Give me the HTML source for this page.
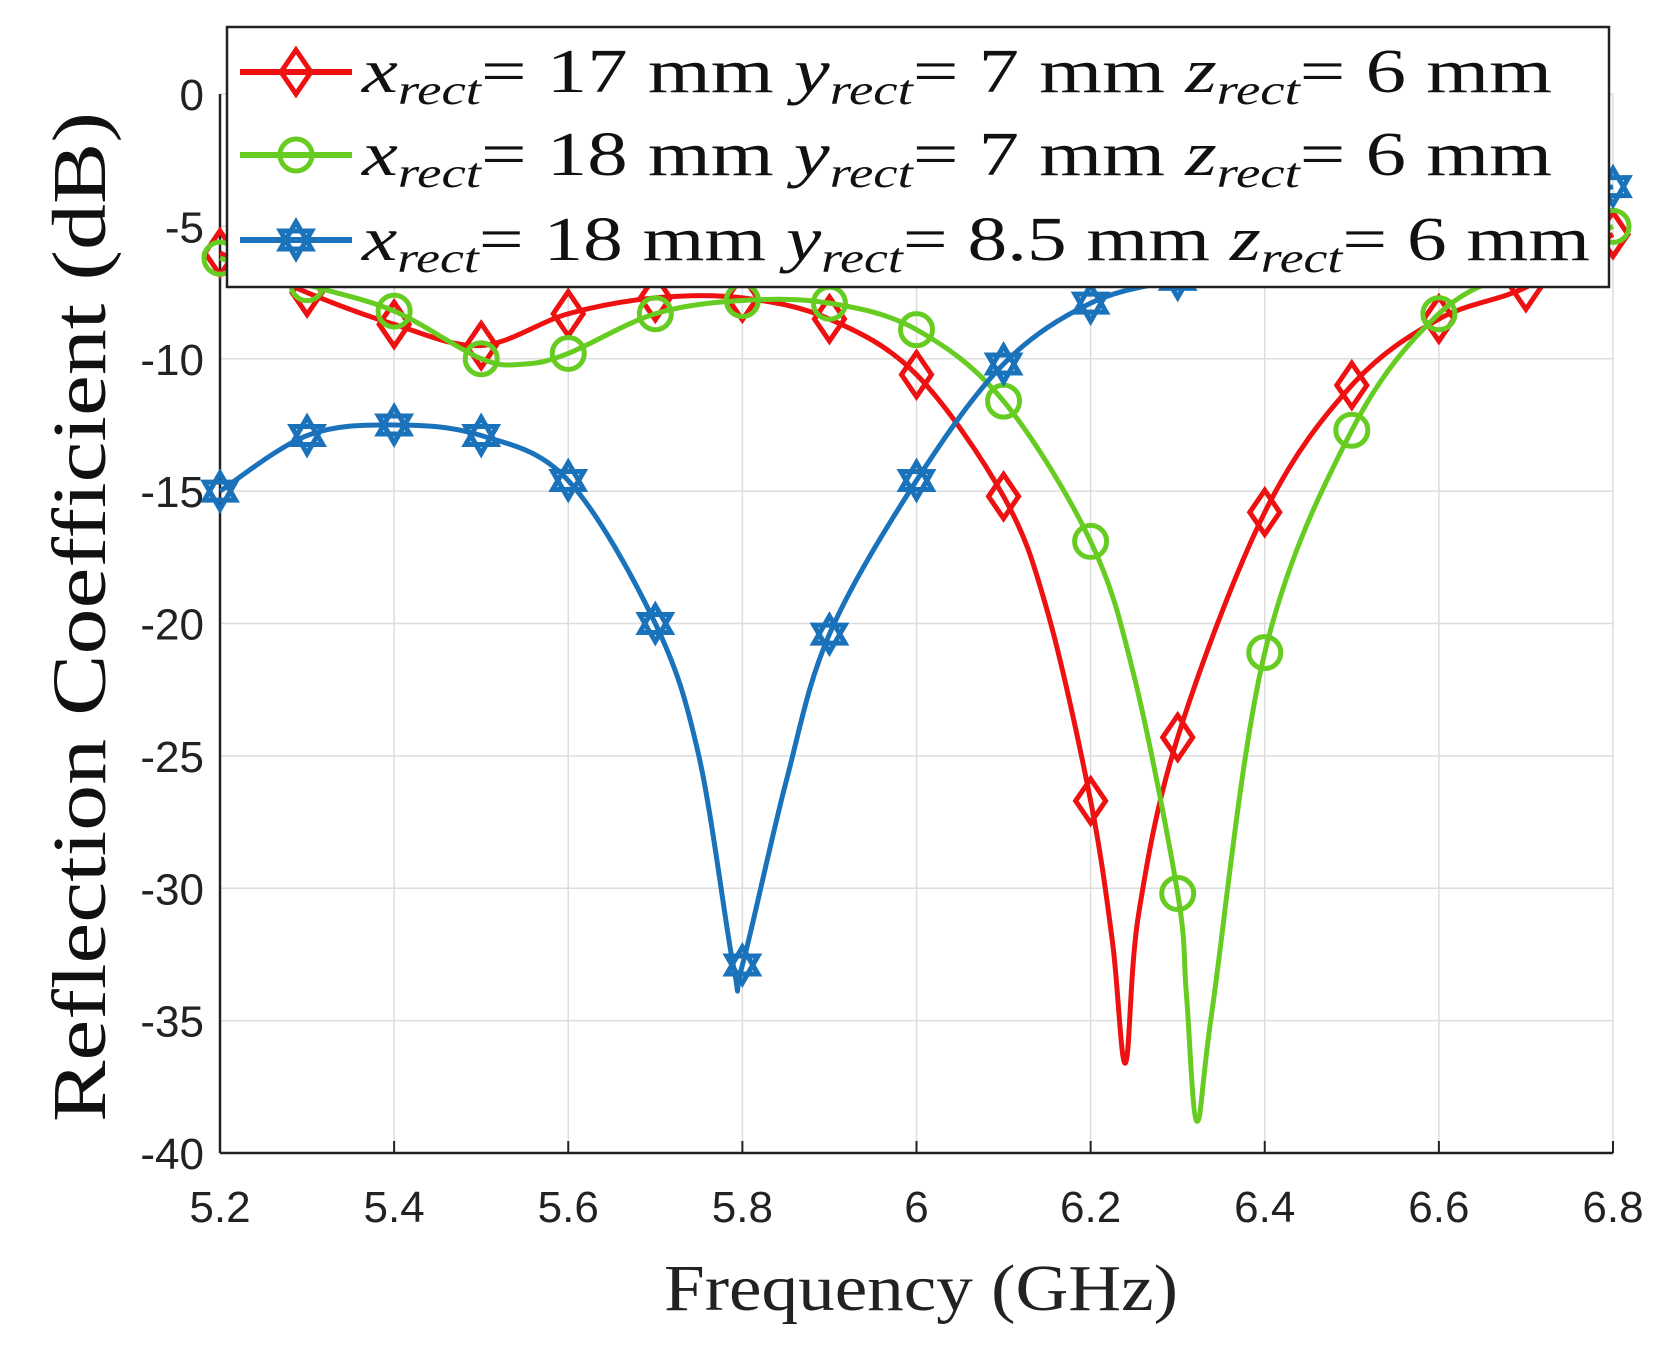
<!DOCTYPE html><html><head><style>body{margin:0;background:#fff}svg{display:block}</style></head><body>
<svg id="s" width="1671" height="1350" xmlns="http://www.w3.org/2000/svg" font-family="Liberation Sans, sans-serif"></svg>
<script>
const L=220,R=1613,T=94,B=1153;
const X=f=>L+(f-5.2)/1.6*(R-L), Y=d=>T+(-d)/40*(B-T);
let h='<rect width="1671" height="1350" fill="#fff"/>';
for(let i=0;i<=16;i+=2){const x=X(5.2+i/10);h+=`<line x1="${x}" y1="${T}" x2="${x}" y2="${B}" stroke="#ddd" stroke-width="1.5"/>`;
h+=`<line x1="${x}" y1="${B}" x2="${x}" y2="${B-12}" stroke="#222" stroke-width="2"/>`;
h+=`<text x="${x}" y="${B+69}" font-size="44" text-anchor="middle" fill="#222">${+(5.2+i/10).toFixed(1)}</text>`;}
for(let d=0;d<=40;d+=5){const y=Y(-d);h+=`<line x1="${L}" y1="${y}" x2="${R}" y2="${y}" stroke="#ddd" stroke-width="1.5"/>`;
h+=`<text x="${L-16}" y="${y+16}" font-size="44" text-anchor="end" fill="#222">${d?'-'+d:0}</text>`;}
h+=`<line x1="${L}" y1="${T}" x2="${L}" y2="${B}" stroke="#222" stroke-width="2.5"/><line x1="${L}" y1="${B}" x2="${R}" y2="${B}" stroke="#222" stroke-width="2.5"/>`;
h+=`<text x="664" y="1310" font-size="66" textLength="514" lengthAdjust="spacingAndGlyphs" font-family="Liberation Serif, serif" fill="#222">Frequency (GHz)</text>`;
h+=`<text transform="translate(105,1122) rotate(-90)" font-size="76" textLength="1010" lengthAdjust="spacingAndGlyphs" font-family="Liberation Serif, serif" fill="#111">Reflection Coefficient (dB)</text>`;
const fs=[];for(let i=0;i<=16;i++)fs.push(5.2+i/10);
const red=[-6,-7.5,-8.7,-9.5,-8.3,-7.7,-7.7,-8.5,-10.6,-15.2,-26.7,-24.3,-15.8,-11,-8.5,-7.3,-5.3];
const grn=[-6.2,-7.2,-8.2,-10,-9.8,-8.3,-7.8,-7.9,-8.9,-11.6,-16.9,-30.2,-21.1,-12.7,-8.3,-6.5,-5];
const blu=[-15,-12.9,-12.5,-12.9,-14.6,-20,-32.9,-20.4,-14.6,-10.2,-7.9,-7,-6.3,-5.6,-5,-4.3,-3.5];
function pts(v,extra){let p=fs.map((f,i)=>[f,v[i]]);p=p.concat(extra);p.sort((a,b)=>a[0]-b[0]);return p.map(q=>[X(q[0]),Y(q[1])]);}
function path(p){let d=`M${p[0][0]},${p[0][1]}`;for(let i=0;i<p.length-1;i++){const p0=p[i-1]||p[i],p1=p[i],p2=p[i+1],p3=p[i+2]||p2;
const c1=[p1[0]+(p2[0]-p0[0])/6,p1[1]+(p2[1]-p0[1])/6],c2=[p2[0]-(p3[0]-p1[0])/6,p2[1]-(p3[1]-p1[1])/6];
d+=`C${c1[0]},${c1[1]} ${c2[0]},${c2[1]} ${p2[0]},${p2[1]}`;}return d;}
const cR='#ee1111',cG='#66cc22',cB='#1a72bb';
const rp=pts(red,[[6.15,-19.5],[6.24,-36.6],[6.225,-32],[6.255,-31]]);
const gp=pts(grn,[[6.25,-22],[6.322,-38.8],[6.31,-34],[6.34,-34.5],[5.55,-10.2]]);
const bp=pts(blu,[[5.75,-25],[5.79,-33],[5.85,-26]]);
function mk(t,x,y,c){const s=`fill="none" stroke="${c}" stroke-width="5"`;
if(t=='d')return `<polygon points="${x},${y-22} ${x+15},${y} ${x},${y+22} ${x-15},${y}" ${s}/>`;
if(t=='o')return `<circle cx="${x}" cy="${y}" r="16" ${s}/>`;
let a=[],b=[];for(let k=0;k<3;k++){const t1=-Math.PI/2+k*2*Math.PI/3,t2=Math.PI/2+k*2*Math.PI/3;a.push(`${x+18*Math.cos(t1)},${y+18*Math.sin(t1)}`);b.push(`${x+18*Math.cos(t2)},${y+18*Math.sin(t2)}`);}
return `<polygon points="${a.join(' ')}" ${s}/><polygon points="${b.join(' ')}" ${s}/>`;}
[[rp,red,cR,'d'],[gp,grn,cG,'o'],[bp,blu,cB,'s']].forEach(([p,v,c,t])=>{
h+=`<path d="${path(p)}" fill="none" stroke="${c}" stroke-width="5"/>`;
fs.forEach((f,i)=>h+=mk(t,X(f),Y(v[i]),c));});
h+=`<rect x="227" y="27" width="1382" height="260" fill="#fff" stroke="#222" stroke-width="2.5"/>`;
const rows=[[72,cR,'d','17','7',1190],[155,cG,'o','18','7',1190],[240,cB,'s','18','8.5',1228]];
rows.forEach(([y,c,t,xv,yv,w])=>{h+=`<line x1="240" y1="${y}" x2="352" y2="${y}" stroke="${c}" stroke-width="6"/>`+mk(t,296,y,c);
h+=`<text x="362" y="${y+20}" font-size="62" textLength="${w}" lengthAdjust="spacingAndGlyphs" font-family="Liberation Serif, serif" fill="#111"><tspan font-style="italic">x</tspan><tspan font-style="italic" font-size="42" dy="12">rect</tspan><tspan dy="-12">= ${xv} mm </tspan><tspan font-style="italic">y</tspan><tspan font-style="italic" font-size="42" dy="12">rect</tspan><tspan dy="-12">= ${yv} mm </tspan><tspan font-style="italic">z</tspan><tspan font-style="italic" font-size="42" dy="12">rect</tspan><tspan dy="-12">= 6 mm</tspan></text>`;});
document.getElementById('s').innerHTML=h;
</script></body></html>
